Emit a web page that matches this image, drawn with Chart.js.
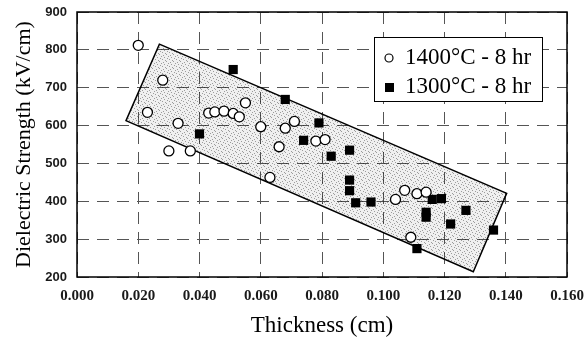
<!DOCTYPE html>
<html>
<head>
<meta charset="utf-8">
<script src="https://cdn.jsdelivr.net/npm/chart.js@4.4.1/dist/chart.umd.min.js"></script>
<style>
html, body { margin: 0; padding: 0; background: #fff; }
</style>
</head>
<body>
<canvas id="chart" width="584" height="342"></canvas>
<script>
// 1400C - 8 hr (open circles)
var thick1400 = [0.020, 0.028, 0.023, 0.033, 0.030, 0.037, 0.043, 0.045, 0.048, 0.051, 0.053, 0.055,
                 0.060, 0.063, 0.066, 0.068, 0.071, 0.078, 0.081, 0.104, 0.107, 0.111, 0.114, 0.109];
var strength1400 = [812, 720, 635, 606, 533, 533, 633, 636, 638, 632, 623, 660,
                    597, 463, 544, 593, 611, 559, 563, 405, 429, 420, 424, 305];

// 1300C - 8 hr (filled squares)
var thick1300 = [0.040, 0.051, 0.068, 0.074, 0.079, 0.083, 0.089, 0.089, 0.089, 0.091, 0.096,
                 0.116, 0.119, 0.114, 0.114, 0.122, 0.127, 0.136, 0.111];
var strength1300 = [578, 748, 669, 561, 607, 519, 535, 456, 428, 396, 398,
                    405, 407, 371, 358, 340, 376, 324, 275];

// shaded band corners
var bandThick = [0.0269, 0.1403, 0.1294, 0.0160];
var bandStrength = [815, 421, 214, 613];

var seriesLabels = ['1400°C - 8 hr', '1300°C - 8 hr'];

function pts(xs, ys) {
    return xs.map(function (x, i) { return { x: x, y: ys[i] }; });
}

// stipple texture
var pat = document.createElement('canvas');
pat.width = 7; pat.height = 7;
var pc = pat.getContext('2d');
pc.fillStyle = 'rgba(0,0,0,0.06)';
pc.fillRect(0, 0, 7, 7);
pc.fillStyle = 'rgba(0,0,0,0.35)';
[[0, 0], [3, 1], [6, 2], [1, 3], [4, 4], [2, 6], [5, 5]].forEach(function (p) {
    pc.fillRect(p[0], p[1], 1, 1);
});

var bandPlugin = {
    id: 'band',
    beforeDatasetsDraw: function (chart) {
        var ctx = chart.ctx, xs = chart.scales.x, ys = chart.scales.y, a = chart.chartArea;
        ctx.save();
        ctx.beginPath();
        bandThick.forEach(function (t, i) {
            var px = xs.getPixelForValue(t), py = ys.getPixelForValue(bandStrength[i]);
            if (i) ctx.lineTo(px, py); else ctx.moveTo(px, py);
        });
        ctx.closePath();
        ctx.fillStyle = ctx.createPattern(pat, 'repeat');
        ctx.fill();
        ctx.lineWidth = 1.5;
        ctx.strokeStyle = '#000';
        ctx.stroke();
        ctx.lineWidth = 1.5;
        ctx.strokeRect(a.left, a.top, a.right - a.left, a.bottom - a.top);
        ctx.restore();
    },
    afterDatasetsDraw: function (chart) {
        var ctx = chart.ctx, a = chart.chartArea;
        var bx = a.right - 193, by = a.top + 25;
        ctx.save();
        ctx.fillStyle = '#fff';
        ctx.fillRect(bx, by, 168, 64);
        ctx.strokeStyle = '#000';
        ctx.lineWidth = 1;
        ctx.strokeRect(bx + 0.5, by + 0.5, 168, 64);
        ctx.font = '23px "Liberation Serif"';
        ctx.textBaseline = 'middle';
        ctx.fillStyle = '#000';
        // circle
        ctx.beginPath();
        ctx.arc(bx + 15, by + 21, 4, 0, Math.PI * 2);
        ctx.lineWidth = 1.2;
        ctx.stroke();
        ctx.fillText(seriesLabels[0], bx + 31, by + 21);
        ctx.fillRect(bx + 11, by + 46, 9, 9);
        ctx.fillText(seriesLabels[1], bx + 31, by + 50);
        ctx.restore();
    }
};

var xTickFont = { family: '"Liberation Serif", "Times New Roman", serif', size: 15, weight: 'bold' };
var yTickFont = { family: '"Liberation Sans", Arial, sans-serif', size: 13, weight: 'bold' };

function noPad(s) {
    s.paddingLeft = 0; s.paddingRight = 0; s.paddingTop = 0; s.paddingBottom = 0;
}

new Chart(document.getElementById('chart'), {
    type: 'scatter',
    data: {
        datasets: [{
            label: seriesLabels[0],
            data: pts(thick1400, strength1400),
            pointStyle: 'circle',
            pointRadius: 5,
            pointBorderWidth: 1.3,
            pointBackgroundColor: '#fff',
            pointBorderColor: '#000'
        }, {
            label: seriesLabels[1],
            data: pts(thick1300, strength1300),
            pointStyle: 'rect',
            pointRadius: 6.5,
            pointBorderWidth: 0,
            pointBackgroundColor: '#000',
            pointBorderColor: '#000'
        }]
    },
    options: {
        responsive: false,
        animation: false,
        layout: { padding: { top: 12, right: 17, left: 0, bottom: 0 } },
        plugins: { legend: { display: false }, tooltip: { enabled: false } },
        scales: {
            x: {
                min: 0, max: 0.16,
                afterFit: function (s) { s.height = 65; noPad(s); },
                ticks: {
                    stepSize: 0.02, padding: 10, color: '#1a1a1a', font: xTickFont,
                    maxRotation: 0,
                    callback: function (v) { return v.toFixed(3); }
                },
                grid: { drawTicks: false, color: '#555', lineWidth: 1 },
                border: { display: false, dash: [12, 8] },
                title: {
                    display: true, text: 'Thickness (cm)', color: '#000',
                    font: { family: '"Liberation Serif", "Times New Roman", serif', size: 23 },
                    padding: { top: 0, bottom: 2 }
                }
            },
            y: {
                min: 200, max: 900,
                afterFit: function (s) { s.width = 77; noPad(s); },
                ticks: { stepSize: 100, padding: 10, color: '#1a1a1a', font: yTickFont },
                grid: { drawTicks: false, color: '#555', lineWidth: 1 },
                border: { display: false, dash: [12, 8] },
                title: {
                    display: true, text: 'Dielectric Strength (kV/cm)', color: '#000',
                    font: { family: '"Liberation Serif", "Times New Roman", serif', size: 22 },
                    padding: { top: 11, bottom: 0 }
                }
            }
        }
    },
    plugins: [bandPlugin]
});
</script>
</body>
</html>
